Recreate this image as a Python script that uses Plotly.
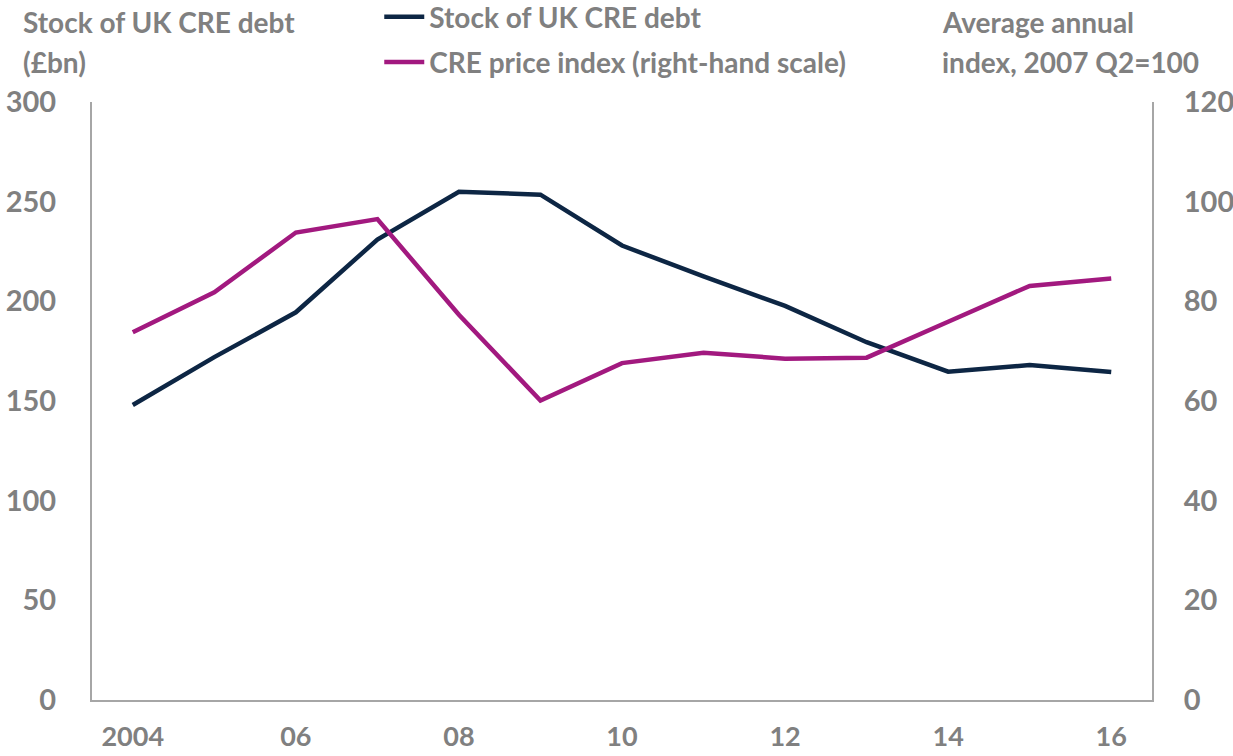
import plotly.graph_objects as go

years = [2004, 2005, 2006, 2007, 2008, 2009, 2010, 2011, 2012, 2013, 2014, 2015, 2016]
tick_vals = [2004, 2006, 2008, 2010, 2012, 2014, 2016]
tick_text = ["2004", "06", "08", "10", "12", "14", "16"]
debt_stock = [148, 172, 194.5, 231, 255, 253.5, 228, 212.5, 197.7, 179.5, 164.7, 168, 164.5]
price_index = [73.8, 81.8, 93.8, 96.5, 77.3, 60.1, 67.6, 69.7, 68.5, 68.7, 75.9, 83.1, 84.6]

NAVY = "#0d2644"
MAGENTA = "#a2197f"
GREY = "#808080"
FONT = "Lato"

fig = go.Figure()
fig.add_trace(go.Scatter(x=years, y=debt_stock, mode="lines", name="<b>Stock of UK CRE debt</b>",
                         line=dict(color=NAVY, width=4.5), legendgroup="a"))
fig.add_trace(go.Scatter(x=years, y=price_index, mode="lines", name="<b>CRE price index (right-hand scale)</b>",
                         line=dict(color=MAGENTA, width=4.5), yaxis="y2", legendgroup="b"))

tfont = dict(family=FONT, size=29, color=GREY, weight="bold")
xfont = dict(family=FONT, size=27, color=GREY, weight="bold")
fig.update_layout(
    width=1233, height=756,
    margin=dict(l=92, r=81, t=102, b=56, autoexpand=False),
    paper_bgcolor="white", plot_bgcolor="white",
    font=dict(family=FONT, size=28, color=GREY),
    showlegend=True,
    legend=dict(x=0.271, y=1.184, xanchor="left", yanchor="top", bgcolor="rgba(0,0,0,0)",
                font=dict(family=FONT, size=28, color=GREY),
                traceorder="grouped", tracegroupgap=6, itemwidth=40),
    xaxis=dict(range=[2003.5, 2016.5], tickvals=tick_vals, ticktext=tick_text, automargin=False,
               showgrid=False, zeroline=False, showline=True, linecolor="#a6a6a6", linewidth=2,
               ticks="", tickfont=xfont, ticklabelstandoff=12),
    yaxis=dict(range=[0, 300], dtick=50, showgrid=False, zeroline=False, showline=True, automargin=False,
               linecolor="#a6a6a6", linewidth=2, ticks="", tickfont=tfont, ticklabelstandoff=28),
    yaxis2=dict(range=[0, 120], dtick=20, overlaying="y", side="right", showgrid=False, zeroline=False,
                showline=True, linecolor="#a6a6a6", linewidth=2, ticks="", automargin=False,
                tickfont=tfont, ticklabelstandoff=24),
)

title_lines = [
    (-0.067, 1.1338, "Stock of UK CRE debt"),
    (-0.067, 1.0669, "(£bn)"),
    (0.8, 1.1338, "Average annual"),
    (0.8, 1.0669, "index, 2007 Q2=100"),
]
for x, y, t in title_lines:
    fig.add_annotation(xref="paper", yref="paper", x=x, y=y, xanchor="left", yanchor="middle",
                       align="left", showarrow=False, text=f"<b>{t}</b>",
                       font=dict(family=FONT, size=28, color=GREY))

fig.write_html("out.html")
